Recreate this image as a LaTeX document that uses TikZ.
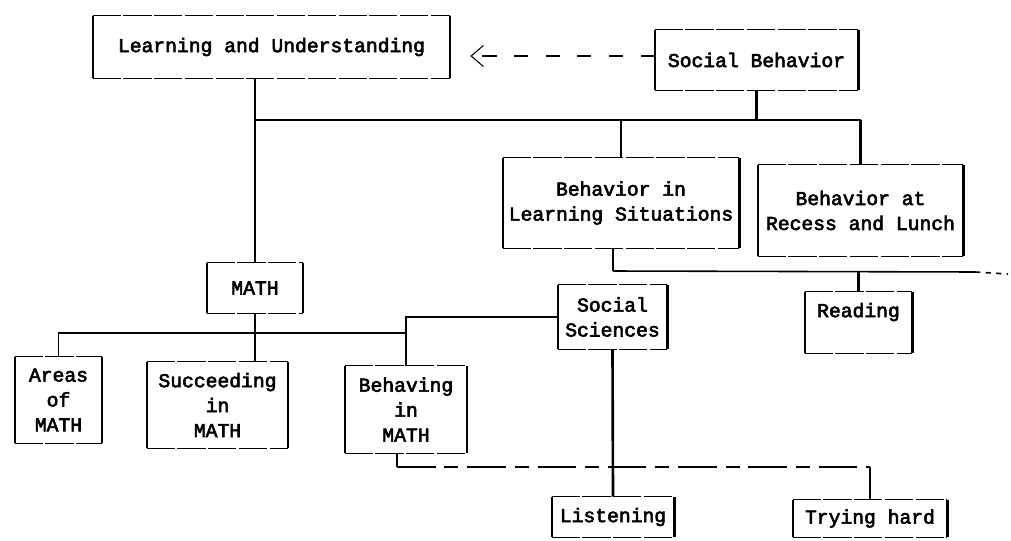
\documentclass[tikz,border=0pt]{standalone}
\usepackage{fontspec}
\usetikzlibrary{arrows.meta}
\newfontfamily\typer{Liberation Mono}[FakeBold=3]
\newcommand\typefont{\typer\fontsize{11.2}{14.2}\selectfont}
\begin{document}
\begin{tikzpicture}[x=0.02cm, y=-0.02cm, font=\typefont, >={Straight Barb[length=7pt,width=12pt]},
	card/.style={align=center, inner sep=0pt},
	stem/.style={line width=1.5pt},
	bus/.style={line width=0.9pt}]
	\useasboundingbox (0,0) rectangle (1011,541);
	% boxes: name/x/y/width/height/text
	\foreach \n/\x/\y/\w/\h/\t in {lu/271.5/47/357/62/{Learning and Understanding},
		sb/756.5/60/203/60/{Social Behavior},
		bls/621/203/236/90/{Behavior in\\Learning Situations},
		brl/860.5/210.5/205/91/{Behavior at\\Recess and Lunch},
		math/255/288/96/50/{MATH},
		ss/612.5/317/109/64/{Social\\Sciences},
		read/858.5/322.5/107/61/{Reading\\ },
		areas/58.5/400/87/86/{Areas\\of\\MATH},
		succ/217.5/405/141/86/{Succeeding\\in\\MATH},
		beh/406/409.5/122/87/{Behaving\\in\\MATH},
		list/613/517/122/40/{Listening},
		try/870/518.5/154/37/{Trying hard}}{
		\node[card, minimum width=\w*0.02cm, minimum height=\h*0.02cm] (\n) at (\x,\y) {\t};
		\draw[thin, dash pattern=on 16pt off 1.5pt] (\n.north west)--(\n.north east) (\n.south west)--(\n.south east);
		\draw[line width=1.3pt] (\n.north west)--(\n.south west) (\n.north east)--(\n.south east);
	}
	\path (255,120) coordinate (top) (613,271) coordinate (mid) (975,272) coordinate (far) (1008,274) coordinate (farend)
		(54,333) coordinate (low) (397,467) coordinate (base);
	% upper tree
	\draw[->, semithick, dash pattern=on 8pt off 10pt, shorten >=0.4cm] (sb.west |- 0,56) -- (lu.east |- 0,56);
	\draw[stem] (lu.south -| math.north) -- (math.north);
	\draw[bus] (top) -- (top -| brl.north);
	\draw[stem] (sb.south) -- (sb.south |- top);
	\draw[stem] (bls.north) -- (bls.north |- top) (brl.north) -- (brl.north |- top);
	\draw[stem] (bls.south -| mid) -- (mid);
	\draw[bus] (mid) -- (far);
	\draw[bus, dashed] (far) -- (farend);
	\draw[stem] (read.north) -- (read.north |- mid);
	% lower tree
	\draw[stem] (math.south) -- (math.south |- succ.north);
	\draw[bus] (areas.north) |- (beh.north |- low);
	\draw[bus] (ss.west) -| (beh.north);
	\draw[stem] (beh.north |- low) -- (beh.north);
	\draw[stem] (ss.south) -- (list.north);
	\draw[stem] (beh.south -| base) -- (base);
	\draw[bus, dash pattern=on 22pt off 5pt on 8pt off 5pt] (base) -- (base -| try.north);
	\draw[stem] (base -| try.north) -- (try.north);
\end{tikzpicture}
\end{document}
